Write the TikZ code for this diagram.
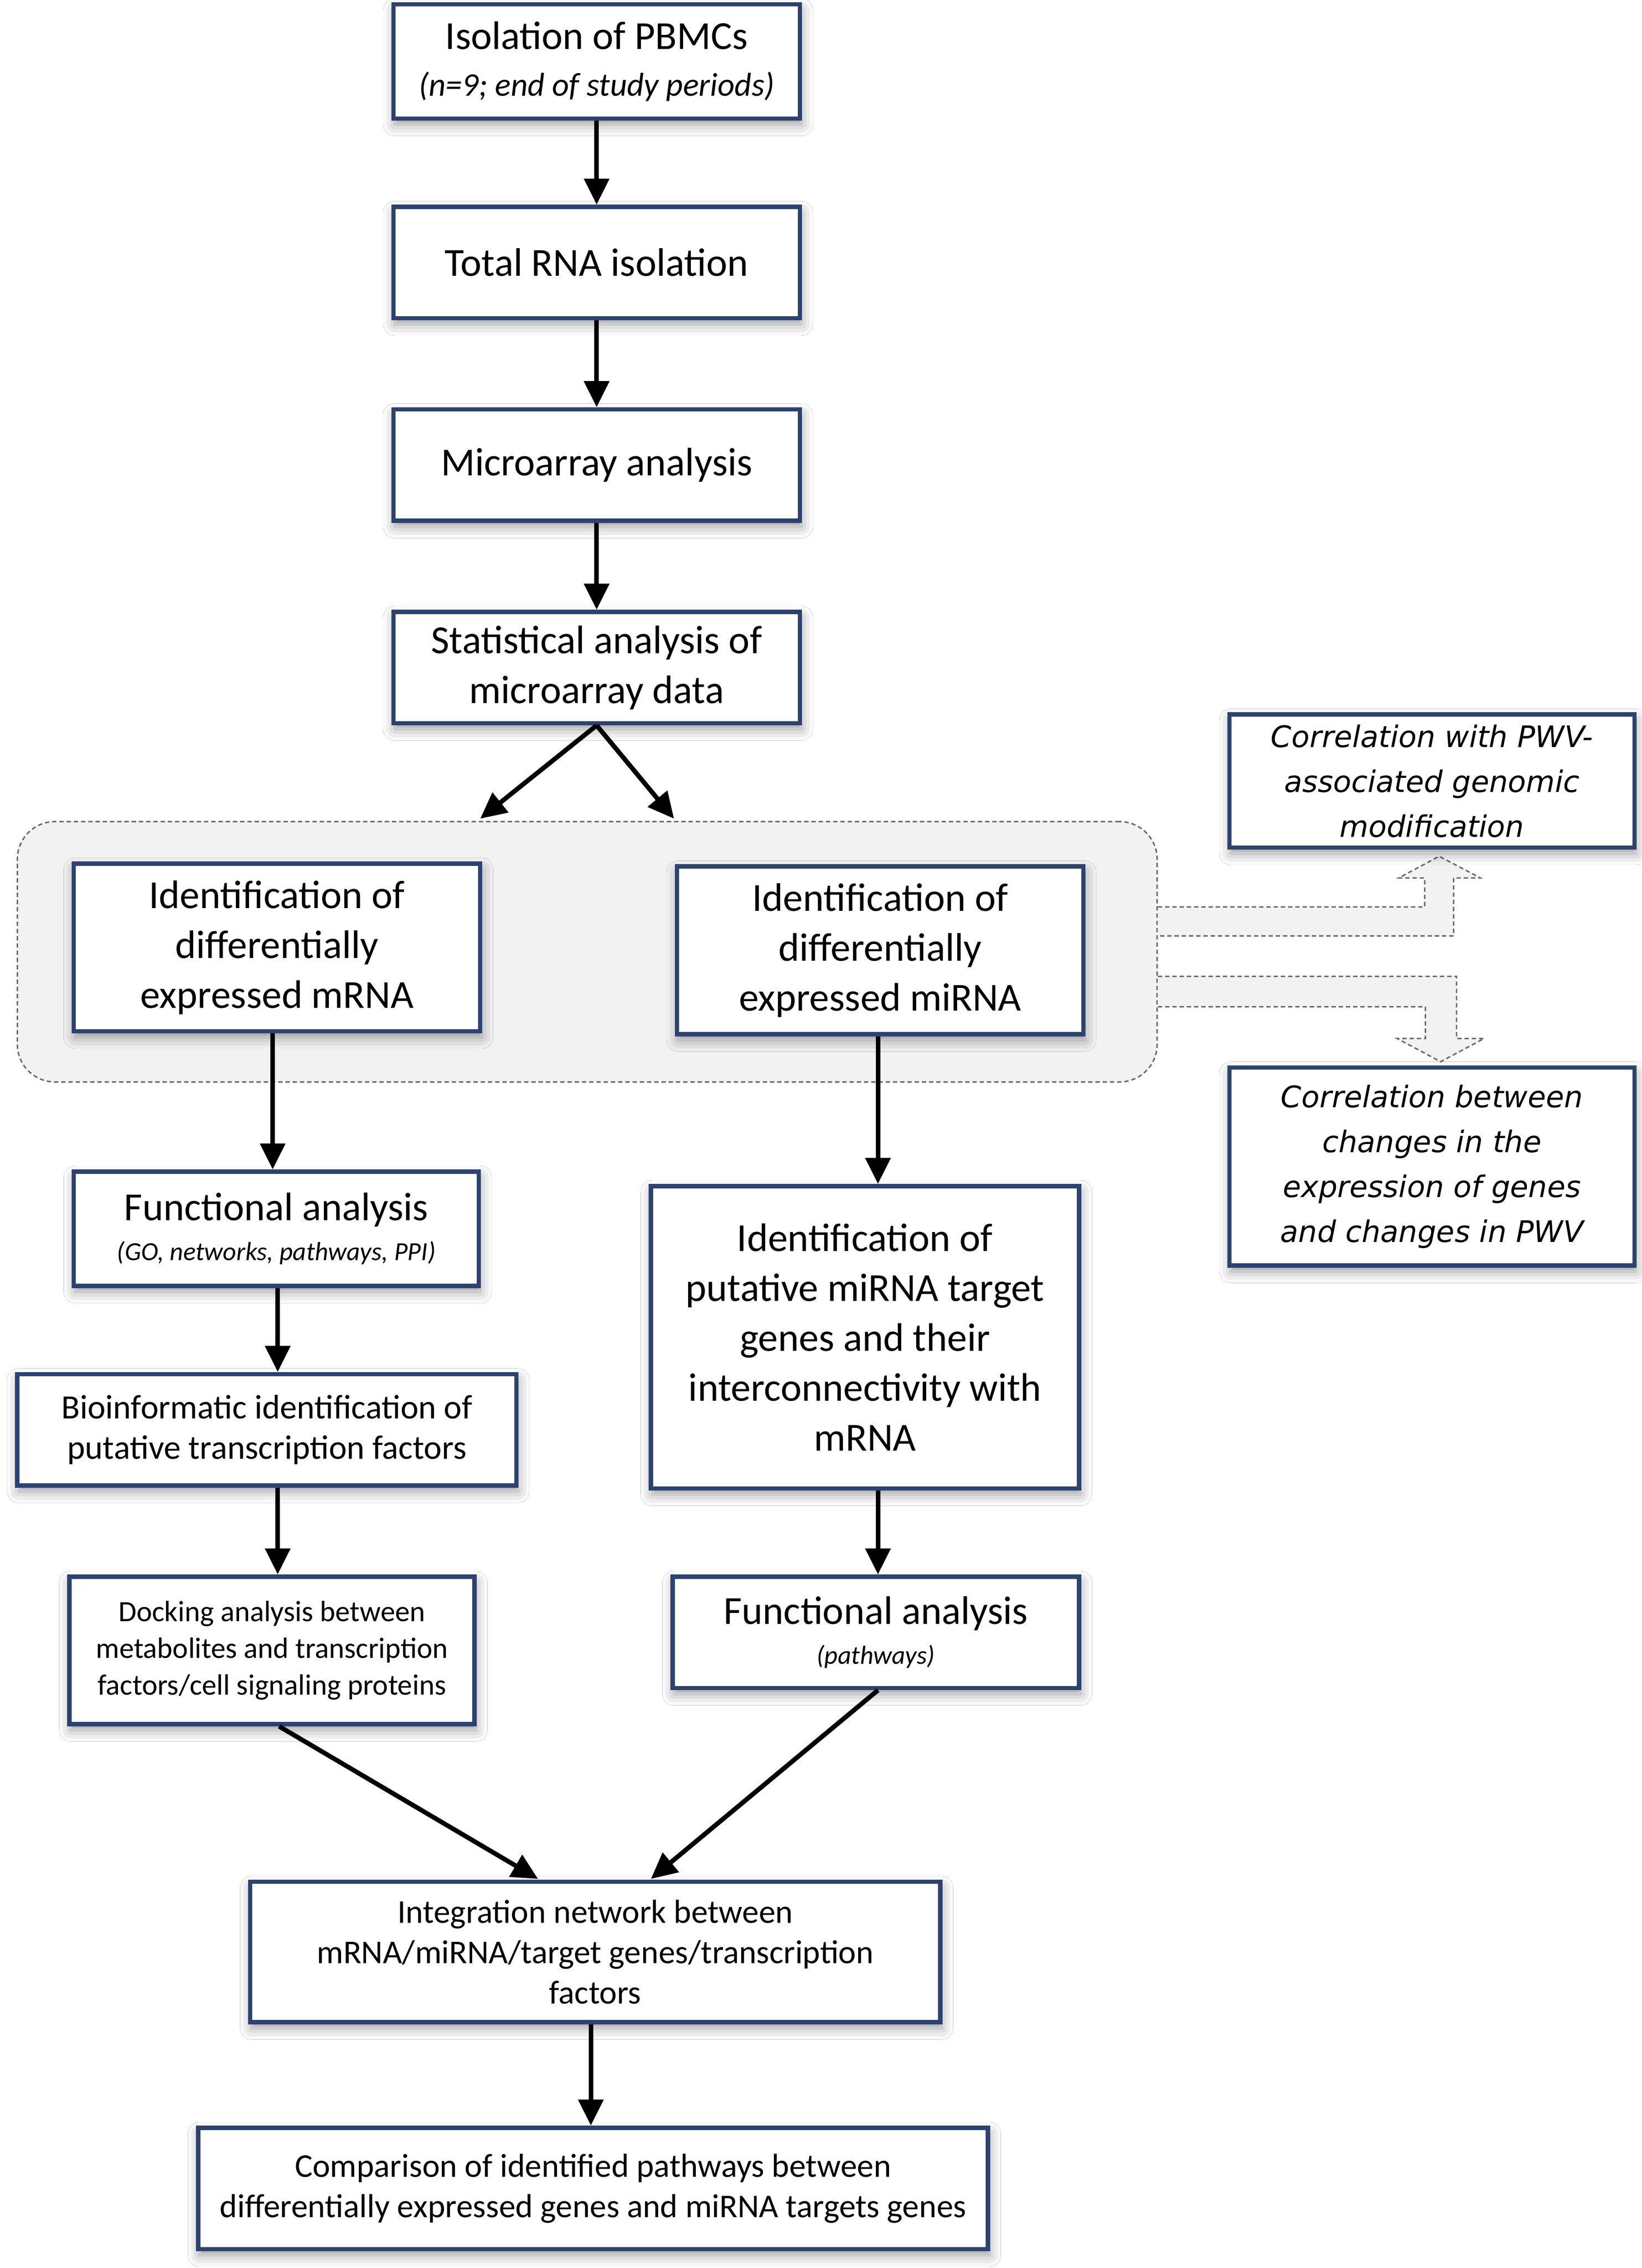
\documentclass[tikz,border=0pt]{standalone}
\usepackage{fontspec}
\setmainfont{Carlito}
\newfontfamily\verd{DejaVu Sans}
\usetikzlibrary{arrows.meta,shadows.blur,calc}
\definecolor{navy}{RGB}{44,66,112}
\definecolor{grpfill}{RGB}{242,242,242}
\definecolor{grpline}{RGB}{105,105,105}
\begin{document}
\begin{tikzpicture}[x=1pt,y=-1pt,
  box/.style={draw=navy, line width=3pt, fill=white, align=center, inner sep=0pt,
    blur shadow={shadow xshift=1pt, shadow yshift=-4pt, shadow blur radius=8pt, shadow opacity=40}},
  sz/.style 2 args={minimum width=#1pt, minimum height=#2pt},
  big/.style={font=\fontsize{27.5}{34.5}\selectfont},
  mid/.style={font=\fontsize{23.5}{28}\selectfont},
  sml/.style={font=\fontsize{20.3}{25.5}\selectfont},
  rfont/.style={font=\verd\itshape\fontsize{20.5}{31}\selectfont},
  arr/.style={line width=3.2pt, -{Triangle[length=18pt,width=17pt]}},
  hollow/.style={draw=grpline, line width=1pt, dash pattern=on 3pt off 2pt},
  grpstyle/.style={draw=grpline, fill=grpfill, line width=1pt, dash pattern=on 3pt off 2pt, rounded corners=26pt, inner sep=0pt},
]
\useasboundingbox (0,0) rectangle (1135,1568);
\fill[white] (0,0) rectangle (1135,1568);

% group
\node[grpstyle, sz={788}{180}] (grp) at (406,658) {};

% hollow arrows
\fill[grpfill] (800.5,627) -- (985,627) -- (985,607) -- (967,607) -- (995,592) -- (1023.5,607) -- (1005,607) -- (1005,647) -- (800.5,647) -- cycle;
\draw[hollow] (800.5,627) -- (985,627) -- (985,607) -- (967,607) -- (995,592) -- (1023.5,607) -- (1005,607) -- (1005,647) -- (800.5,647);
\fill[grpfill] (800.5,675) -- (1007,675) -- (1007,718) -- (1026,718) -- (996,734) -- (966,718) -- (985.5,718) -- (985.5,696) -- (800.5,696) -- cycle;
\draw[hollow] (800.5,675) -- (1007,675) -- (1007,718) -- (1026,718) -- (996,734) -- (966,718) -- (985.5,718) -- (985.5,696) -- (800.5,696);

% main column
\node[box, big, sz={281}{79}] (b1) at (412.5,42.5) {Isolation of PBMCs\\[-2pt]{\fontsize{22.8}{31}\selectfont\itshape (n=9; end of study periods)}};
\node[box, big, sz={281}{77}] (b2) at (412.5,181.5) {Total RNA isolation};
\node[box, big, sz={281}{77}] (b3) at (412.5,321.5) {Microarray analysis};
\node[box, big, sz={281}{77}] (b4) at (412.5,461.5) {Statistical analysis of\\microarray data};

\node[box, big, sz={281}{116}] (m) at (191.5,655) {Identification of\\differentially\\expressed mRNA};
\node[box, big, sz={281}{116}] (mi) at (608.5,657) {Identification of\\differentially\\expressed miRNA};

\node[box, big, sz={280}{79}] (fa1) at (191,849.5) {Functional analysis\\[-7pt]{\fontsize{18}{28}\selectfont\itshape (GO, networks, pathways, PPI)}};
\node[box, mid, sz={345}{77}] (bio) at (184.5,988.5) {Bioinformatic identification of\\putative transcription factors};
\node[box, sml, sz={280}{102}] (dock) at (188,1141) {Docking analysis between\\metabolites and transcription\\factors/cell signaling proteins};

\node[box, big, sz={296}{209}] (put) at (598,924.5) {Identification of\\putative miRNA target\\genes and their\\interconnectivity with\\mRNA};
\node[box, big, sz={281}{77}] (fa2) at (605.5,1128.5) {Functional analysis\\[-7pt]{\fontsize{18}{28}\selectfont\itshape (pathways)}};

\node[box, font=\fontsize{23}{28}\selectfont, sz={477}{97}] (integ) at (411.5,1349.5) {Integration network between\\mRNA/miRNA/target genes/transcription\\factors};
\node[box, font=\fontsize{23}{28}\selectfont, sz={546}{84}] (comp) at (410,1513) {Comparison of identified pathways between\\differentially expressed genes and miRNA targets genes};

% right boxes
\node[box, rfont, sz={280}{92}] (ca) at (990,540) {Correlation with PWV-\\associated genomic\\modification};
\node[box, rfont, sz={280}{137}] (cb) at (990,806.5) {Correlation between\\changes in the\\expression of genes\\and changes in PWV};

% connectors
\coordinate (c1) at (332,566);
\coordinate (c2) at (466,566);
\coordinate (c3) at (372,1299);
\coordinate (c4) at (450,1299);

\draw[arr] (b1.south) -- (b2.north);
\draw[arr] (b2.south) -- (b3.north);
\draw[arr] (b3.south) -- (b4.north);
\draw[arr] (b4.south) -- (c1);
\draw[arr] (b4.south) -- (c2);
\draw[arr] ([xshift=-3pt]m.south) -- ([xshift=-3pt]m.south |- fa1.north);
\draw[arr] ([xshift=1pt]fa1.south) -- ([xshift=1pt]fa1.south |- bio.north);
\draw[arr] ([xshift=1pt]fa1.south |- bio.south) -- ([xshift=1pt]fa1.south |- dock.north);
\draw[arr] ([xshift=-1.5pt]mi.south) -- ([xshift=-1.5pt]mi.south |- put.north);
\draw[arr] ([xshift=-1.5pt]mi.south |- put.south) -- ([xshift=-1.5pt]mi.south |- fa2.north);
\draw[arr] ([xshift=5pt]dock.south) -- (c3);
\draw[arr] ([xshift=1.5pt]fa2.south) -- (c4);
\draw[arr] ([xshift=-3pt]integ.south) -- ([xshift=-3pt]integ.south |- comp.north);
\end{tikzpicture}
\end{document}
